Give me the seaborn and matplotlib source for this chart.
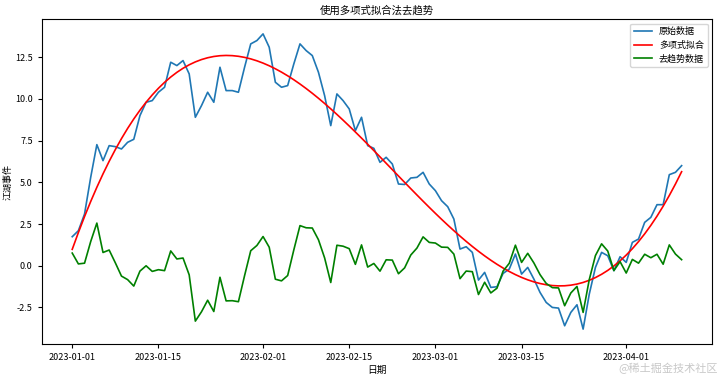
import numpy as np
import pandas as pd
import matplotlib
matplotlib.use("Agg")
import matplotlib.pyplot as plt
import matplotlib.dates as mdates
import seaborn as sns

plt.rcParams['font.family'] = ['Noto Sans CJK SC', 'DejaVu Sans']
plt.rcParams['axes.unicode_minus'] = False

dates = pd.date_range('2023-01-01', periods=100, freq='D')
original = [
    1.74, 2.1, 3.1, 5.3, 7.26, 6.3, 7.2, 7.14, 7.0, 7.4,
    7.58, 9.0, 9.8, 9.9, 10.4, 10.7, 12.2, 12.0, 12.3, 11.5,
    8.9, 9.6, 10.4, 9.8, 11.9, 10.5, 10.5, 10.4, 11.9, 13.3,
    13.5, 13.9, 13.1, 11.0, 10.7, 10.8, 12.1, 13.3, 12.9, 12.6,
    11.6, 10.2, 8.4, 10.3, 9.9, 9.4, 8.1, 8.9, 7.2, 7.04,
    6.2, 6.5, 6.1, 4.9, 4.87, 5.26, 5.3, 5.6, 4.9, 4.5,
    3.9, 3.54, 2.8, 1.0, 1.14, 0.8, -0.86, -0.4, -1.3, -1.26,
    -0.46, -0.2, 0.7, -0.5, -0.1, -0.8, -1.6, -2.2, -2.5, -2.54,
    -3.6, -2.8, -2.34, -3.8, -1.7, -0.1, 0.8, 0.6, -0.3, 0.54,
    0.2, 1.4, 1.6, 2.6, 2.9, 3.66, 3.66, 5.46, 5.6, 6.0,
]
poly_degree = 3

orig = np.array(original)
t = np.arange(len(orig))
coef = np.polyfit(t, orig, poly_degree)
trend = np.polyval(coef, t)
detrended = orig - trend

df = pd.DataFrame({'date': dates, 'orig': orig, 'trend': trend, 'detr': detrended})

fig = plt.figure(figsize=(7.2, 3.75), dpi=100)
ax = fig.add_axes([0.058, 0.083, 0.931, 0.866])

sns.lineplot(data=df, x='date', y='orig', ax=ax, color='#1f77b4', lw=1.2, label='原始数据')
sns.lineplot(data=df, x='date', y='trend', ax=ax, color='red', lw=1.2, label='多项式拟合')
sns.lineplot(data=df, x='date', y='detr', ax=ax, color='green', lw=1.2, label='去趋势数据')

ax.xaxis.set_major_locator(mdates.DayLocator(bymonthday=[1, 15]))
ax.xaxis.set_major_formatter(mdates.DateFormatter('%Y-%m-%d'))
ax.tick_params(labelsize=6.5, length=3)
ax.set_title('使用多项式拟合法去趋势', fontsize=7.5, pad=4)
ax.set_xlabel('日期', fontsize=7, labelpad=2)
ax.set_ylabel('江湖事件', fontsize=6.5, labelpad=2)
leg = ax.legend(loc='upper right', fontsize=6.5, frameon=True)

fig.text(0.997, 0.002, '@稀土掘金技术社区', ha='right', va='bottom', fontsize=8, color='#c8c8c8')

fig.savefig('out.png', dpi=100)
